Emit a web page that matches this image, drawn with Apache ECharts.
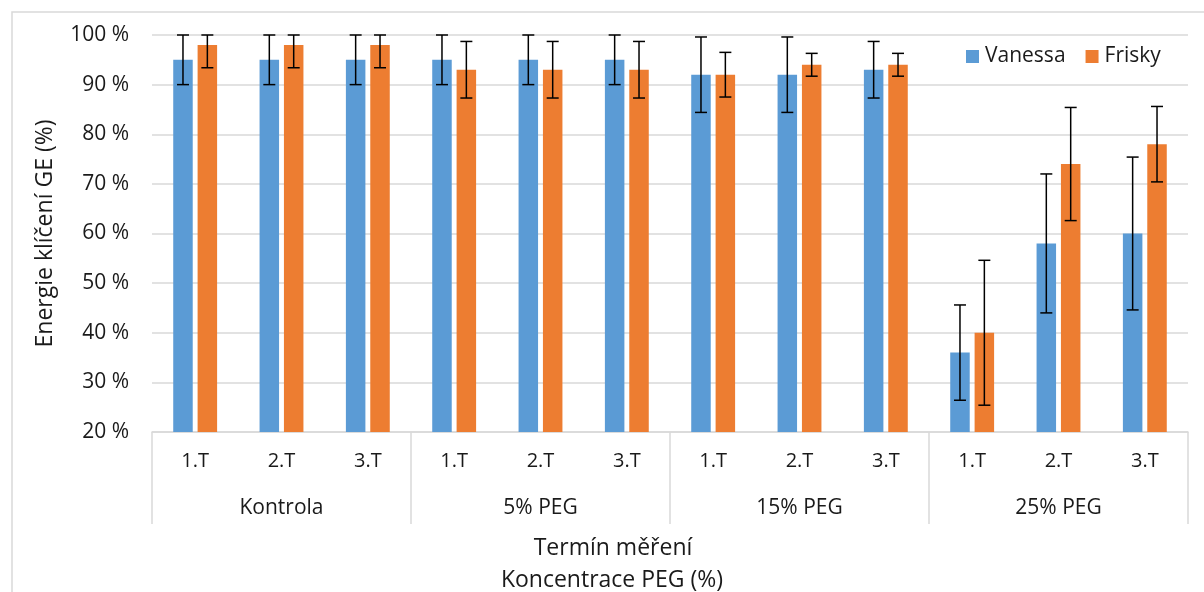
<!DOCTYPE html>
<html>
<head>
<meta charset="utf-8">
<script src="https://cdn.jsdelivr.net/npm/echarts@6/dist/echarts.min.js"></script>
<style>
html,body{margin:0;padding:0;background:#fff;}
#chart{width:1204px;height:592px;}
</style>
</head>
<body>
<div id="chart"></div>
<script>
const terms = ['1.T','2.T','3.T','1.T','2.T','3.T','1.T','2.T','3.T','1.T','2.T','3.T'];
const groups = ['Kontrola','5% PEG','15% PEG','25% PEG'];
const yTicks = [20,30,40,50,60,70,80,90,100];
const vanessa = [95,95,95,95,95,95,92,92,93,36,58,60];
const frisky  = [98,98,98,93,93,93,92,94,94,40,74,78];
const vanessaErr = [5,5,5,5,5,5,7.6,7.6,5.7,9.6,14,15.4];
const friskyErr  = [4.6,4.6,4.6,5.7,5.7,5.7,4.5,2.3,2.3,14.6,11.4,7.6];

const FONT = '"Open Sans", Lato, sans-serif';
const TXT = '#1a1a1a';
const GRID = '#d9d9d9';
const BLUE = '#5B9BD5';
const ORANGE = '#ED7D31';
const Y_MIN = yTicks[0], Y_MAX = yTicks[yTicks.length-1];
const BAR_W = 19.5, BAR_GAP = 0.25;

function errSeries(name, vals, errs, sign){
  return {
    type: 'custom',
    name: name + ' err',
    xAxisIndex: 0,
    z: 10,
    silent: true,
    data: vals.map((v,i)=>[i, v, errs[i]]),
    renderItem: function(params, api){
      const i = api.value(0), v = api.value(1), e = api.value(2);
      const c = api.coord([i, v]);
      const off = sign * (BAR_W + BAR_W*BAR_GAP)/2;
      const x = c[0] + off;
      const hi = api.coord([i, Math.min(v+e, Y_MAX)])[1];
      const lo = api.coord([i, Math.max(v-e, Y_MIN)])[1];
      const cw = 6;
      const st = {stroke:'#000', lineWidth:1.5};
      return {type:'group', children:[
        {type:'line', shape:{x1:x,y1:hi,x2:x,y2:lo}, style:st},
        {type:'line', shape:{x1:x-cw,y1:hi,x2:x+cw,y2:hi}, style:st},
        {type:'line', shape:{x1:x-cw,y1:lo,x2:x+cw,y2:lo}, style:st}
      ]};
    }
  };
}

const chart = echarts.init(document.getElementById('chart'), null, {renderer:'canvas'});
chart.setOption({
  animation: false,
  backgroundColor: '#fff',
  textStyle: {fontFamily: FONT, color: TXT},
  grid: {left:152, right:16, top:35, bottom:160, containLabel:false},
  legend: {
    data: ['Vanessa','Frisky'],
    left: 961, top: 41,
    itemWidth: 13, itemHeight: 13, itemGap: 20,
    icon: 'rect',
    textStyle: {fontFamily: FONT, fontSize: 21, color: TXT, padding:[0,0,0,1]}
  },
  xAxis: [
    {
      type:'category', data: terms, position:'bottom',
      axisLine:{show:true, lineStyle:{color:GRID, width:1.5}},
      axisTick:{show:false},
      axisLabel:{interval:0, margin:19, fontSize:20, color:TXT, fontFamily:FONT},
      splitLine:{show:false}
    },
    {
      type:'category', data: groups, position:'bottom',
      axisLine:{show:false},
      axisTick:{show:true, length:92, interval:0, lineStyle:{color:GRID, width:1.5}},
      axisLabel:{interval:0, margin:66, fontSize:21, color:TXT, fontFamily:FONT},
      splitLine:{show:false}
    }
  ],
  yAxis: {
    type:'value', min:Y_MIN, max:Y_MAX, interval:10,
    axisLine:{show:false}, axisTick:{show:false},
    axisLabel:{formatter:'{value} %', margin:23, fontSize:21, color:TXT, fontFamily:FONT},
    splitLine:{lineStyle:{color:GRID, width:1.5}},
    name:'Energie klíčení GE (%)', nameLocation:'middle', nameGap:95, nameRotate:90,
    nameTextStyle:{fontSize:23, color:TXT, fontFamily:FONT}
  },
  graphic: [
    {type:'rect', shape:{x:12, y:12, width:1300, height:700}, style:{fill:'none', stroke:GRID, lineWidth:1.5}, silent:true, z:-1},
    {type:'text', x:613, y:548, style:{text:'Termín měření', font:'23px '+FONT, fill:TXT, textAlign:'center', textVerticalAlign:'middle'}},
    {type:'text', x:612, y:580, style:{text:'Koncentrace PEG (%)', font:'23px '+FONT, fill:TXT, textAlign:'center', textVerticalAlign:'middle'}}
  ],
  series: [
    {name:'Vanessa', type:'bar', data:vanessa, barWidth:BAR_W, barGap:(BAR_GAP*100)+'%', itemStyle:{color:BLUE}},
    {name:'Frisky', type:'bar', data:frisky, barWidth:BAR_W, barGap:(BAR_GAP*100)+'%', itemStyle:{color:ORANGE}},
    errSeries('Vanessa', vanessa, vanessaErr, -1),
    errSeries('Frisky', frisky, friskyErr, 1)
  ]
});
</script>
</body>
</html>
